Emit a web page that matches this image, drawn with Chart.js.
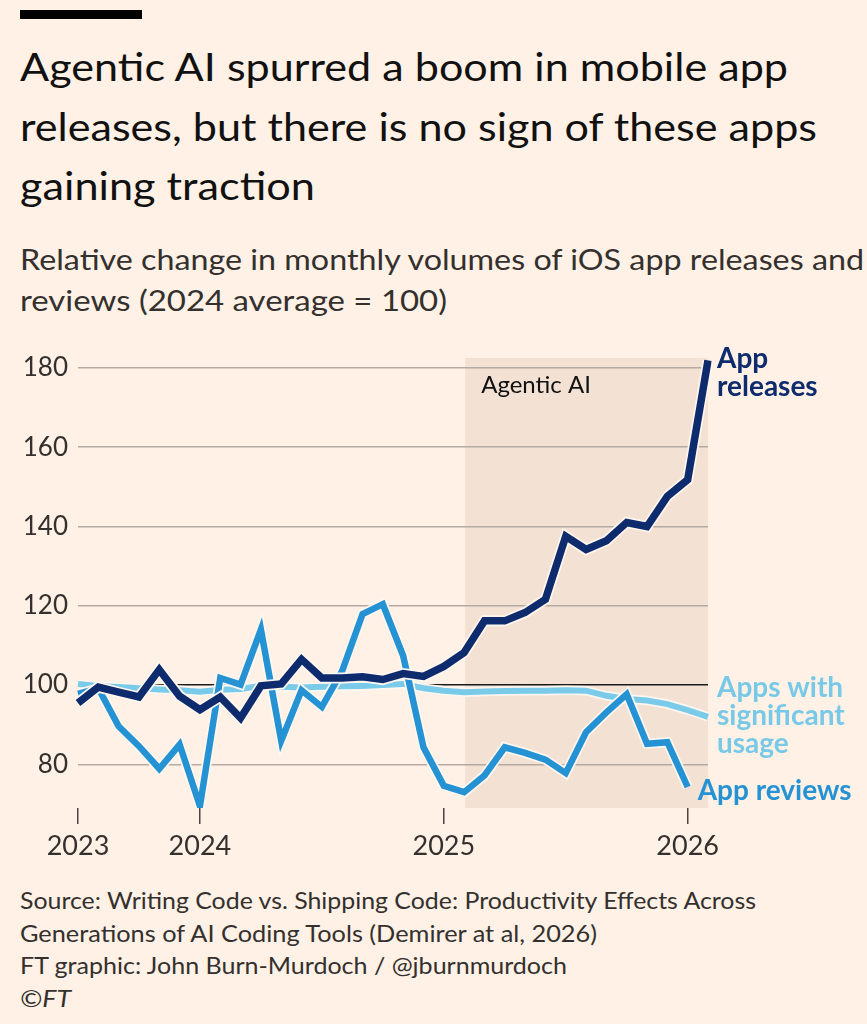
<!DOCTYPE html>
<html>
<head>
<meta charset="utf-8">
<script src="https://cdn.jsdelivr.net/npm/chart.js@4.4.1/dist/chart.umd.min.js"></script>
<style>
  html, body { margin: 0; padding: 0; background: #FFF1E5; }
  body { width: 867px; height: 1024px; position: relative; overflow: hidden; font-family: Lato, "Noto Sans", sans-serif; }
  .bar { position: absolute; left: 20px; top: 10px; width: 122px; height: 9px; background: #000; }
  .ln { position: absolute; left: 20px; white-space: nowrap; line-height: 1; transform-origin: 0 0; }
  .t { font-size: 39px; color: #111; }
  .s { font-size: 28px; color: #33302E; }
  .f { font-size: 24px; color: #33302E; }
  #wrap { position: absolute; left: 0; top: 340px; width: 867px; height: 528px; }
</style>
</head>
<body>
<div class="bar"></div>
<div class="ln t" style="top:47px" data-w="768">Agentic AI spurred a boom in mobile app</div>
<div class="ln t" style="top:107px" data-w="797">releases, but there is no sign of these apps</div>
<div class="ln t" style="top:166px" data-w="295">gaining traction</div>
<div class="ln s" style="top:245px" data-w="844">Relative change in monthly volumes of iOS app releases and</div>
<div class="ln s" style="top:286px" data-w="427">reviews (2024 average = 100)</div>
<div class="ln f" style="top:888px" data-w="736">Source: Writing Code vs. Shipping Code: Productivity Effects Across</div>
<div class="ln f" style="top:921px" data-w="577">Generations of AI Coding Tools (Demirer at al, 2026)</div>
<div class="ln f" style="top:953px" data-w="547">FT graphic: John Burn-Murdoch / @jburnmurdoch</div>
<div class="ln f" style="top:986px;font-style:italic" data-w="51">©FT</div>
<div id="wrap"><canvas id="c" width="867" height="528"></canvas></div>
<script>
// ---- Data (monthly, Jul 2023 – Feb 2026) ----
const months = ['Jul 2023','Aug 2023','Sep 2023','Oct 2023','Nov 2023','Dec 2023',
  'Jan 2024','Feb 2024','Mar 2024','Apr 2024','May 2024','Jun 2024','Jul 2024','Aug 2024','Sep 2024','Oct 2024','Nov 2024','Dec 2024',
  'Jan 2025','Feb 2025','Mar 2025','Apr 2025','May 2025','Jun 2025','Jul 2025','Aug 2025','Sep 2025','Oct 2025','Nov 2025','Dec 2025',
  'Jan 2026','Feb 2026'];
const appReleases = [95.5, 99.5, 98.2, 97.0, 103.9, 97.2, 93.8, 97.0, 91.7, 99.8, 100.3, 106.5, 101.8, 101.8, 102.1, 101.4, 102.9, 102.2,
  104.7, 108.2, 116.2, 116.2, 118.3, 121.6, 137.5, 134.2, 136.4, 141.0, 140.0, 147.6, 151.8, 181.9];
const appReviews = [97.8, 99.2, 89.6, 84.6, 78.9, 85.0, 69.5, 101.8, 100.1, 114.0, 86.0, 98.7, 94.5, 103.6, 117.9, 120.4, 107.4, 84.3,
  74.6, 73.0, 77.2, 84.3, 82.9, 81.2, 77.8, 88.1, 93.1, 97.7, 85.2, 85.6, 74.3, null];
const significantUsage = [100.3, 99.8, 99.5, 99.2, 98.9, 98.7, 98.3, 98.8, 99.0, 99.8, 99.6, 99.4, 99.6, 99.7, 99.8, 100.0, 100.3, 99.2,
  98.6, 98.2, 98.4, 98.5, 98.6, 98.6, 98.7, 98.6, 97.3, 96.5, 96.1, 95.2, 93.7, 92.0];
const xTickIndex = [0, 6, 18, 30];
const xTickLabels = ['2023', '2024', '2025', '2026'];
const yTicks = [80, 100, 120, 140, 160, 180];
const agenticPeriod = ['Feb 2025', 'Feb 2026'];
const agenticTop = 182.5;

// ---- Fit text lines to reference widths ----
document.querySelectorAll('.ln[data-w]').forEach(el => {
  const w = el.getBoundingClientRect().width;
  const target = +el.dataset.w;
  if (w > 0) el.style.transform = 'scaleX(' + (target / w) + ')';
});

const BG_HALO = 'rgba(255,247,239,0.97)';
const C_REL = '#0E2C6D', C_REV = '#2592D4', C_USE = '#7ACBE9';
const FONT = 'Lato, "Noto Sans", sans-serif';

const shadePlugin = {
  id: 'shade',
  beforeDraw(chart) {
    const { ctx, chartArea, scales: { x, y } } = chart;
    const x0 = x.getPixelForValue(months.indexOf(agenticPeriod[0]));
    const x1 = x.getPixelForValue(months.indexOf(agenticPeriod[1]));
    const yt = y.getPixelForValue(agenticTop);
    ctx.save();
    ctx.fillStyle = '#F3E1D4';
    ctx.fillRect(x0 + 1, yt, x1 - x0 - 1, chartArea.bottom - yt);
    ctx.fillStyle = '#111';
    ctx.font = '24px ' + FONT;
    ctx.textBaseline = 'alphabetic';
    ctx.fillText('Agentic AI', x0 + 17, yt + 35);
    ctx.restore();
  }
};

const labelPlugin = {
  id: 'endLabels',
  afterDatasetsDraw(chart) {
    const { ctx, scales: { x, y } } = chart;
    ctx.save();
    ctx.font = 'bold 28px ' + FONT;
    ctx.textBaseline = 'alphabetic';
    ctx.textAlign = 'left';
    let i = appReleases.length - 1;
    let px = x.getPixelForValue(i), py = y.getPixelForValue(appReleases[i]);
    ctx.fillStyle = C_REL;
    ctx.fillText('App', px + 9, py + 8);
    ctx.fillText('releases', px + 9, py + 36);
    i = significantUsage.length - 1;
    px = x.getPixelForValue(i); py = y.getPixelForValue(significantUsage[i]);
    ctx.fillStyle = '#78C9E7';
    ctx.fillText('Apps with', px + 9, py - 20);
    ctx.fillText('significant', px + 9, py + 8);
    ctx.fillText('usage', px + 9, py + 36);
    i = appReviews.length - 2;
    px = x.getPixelForValue(i); py = y.getPixelForValue(appReviews[i]);
    ctx.fillStyle = C_REV;
    ctx.fillText('App reviews', px + 10, py + 13);
    ctx.restore();
  }
};

function lineDs(label, data, color, width, order) {
  return { label, data, borderColor: color, borderWidth: width, pointRadius: 0, tension: 0,
    borderJoinStyle: 'miter', fill: false, order };
}

function noPad(s) { s.paddingTop = 0; s.paddingBottom = 0; s.paddingLeft = 0; s.paddingRight = 0; }

new Chart(document.getElementById('c'), {
  type: 'line',
  data: {
    labels: months,
    datasets: [
      lineDs('usage-halo', significantUsage, BG_HALO, 9.5, 6),
      lineDs('Apps with significant usage', significantUsage, C_USE, 6, 5),
      lineDs('reviews-halo', appReviews, BG_HALO, 10, 4),
      lineDs('App reviews', appReviews, C_REV, 6.5, 3),
      lineDs('releases-halo', appReleases, BG_HALO, 11, 2),
      lineDs('App releases', appReleases, C_REL, 7.5, 1)
    ]
  },
  options: {
    responsive: false,
    animation: false,
    layout: { padding: { top: 16, right: 159, left: 0, bottom: 0 } },
    plugins: { legend: { display: false }, tooltip: { enabled: false } },
    scales: {
      x: {
        type: 'category',
        offset: false,
        border: { display: false },
        grid: {
          drawOnChartArea: false, drawTicks: true, tickLength: 16, lineWidth: 1.5,
          color: ctx => xTickIndex.includes(ctx.index) ? '#4A4542' : 'rgba(0,0,0,0)'
        },
        ticks: {
          autoSkip: false, maxRotation: 0, minRotation: 0, padding: 6,
          color: '#33302E', font: { family: FONT, size: 27 },
          callback: (v, i) => { const k = xTickIndex.indexOf(i); return k >= 0 ? xTickLabels[k] : ''; }
        },
        afterFit: s => { s.height = 60; noPad(s); }
      },
      y: {
        min: 69, max: 183,
        border: { display: false },
        grid: {
          drawTicks: false, lineWidth: 1.5,
          color: ctx => (ctx.tick && ctx.tick.value === 100) ? '#1A1A1A' : '#B5AAA1'
        },
        ticks: { padding: 10, color: '#33302E', font: { family: FONT, size: 26 } },
        afterBuildTicks: s => { s.ticks = yTicks.map(v => ({ value: v })); },
        afterFit: s => { s.width = 78; noPad(s); }
      }
    }
  },
  plugins: [shadePlugin, labelPlugin]
});
</script>
</body>
</html>
